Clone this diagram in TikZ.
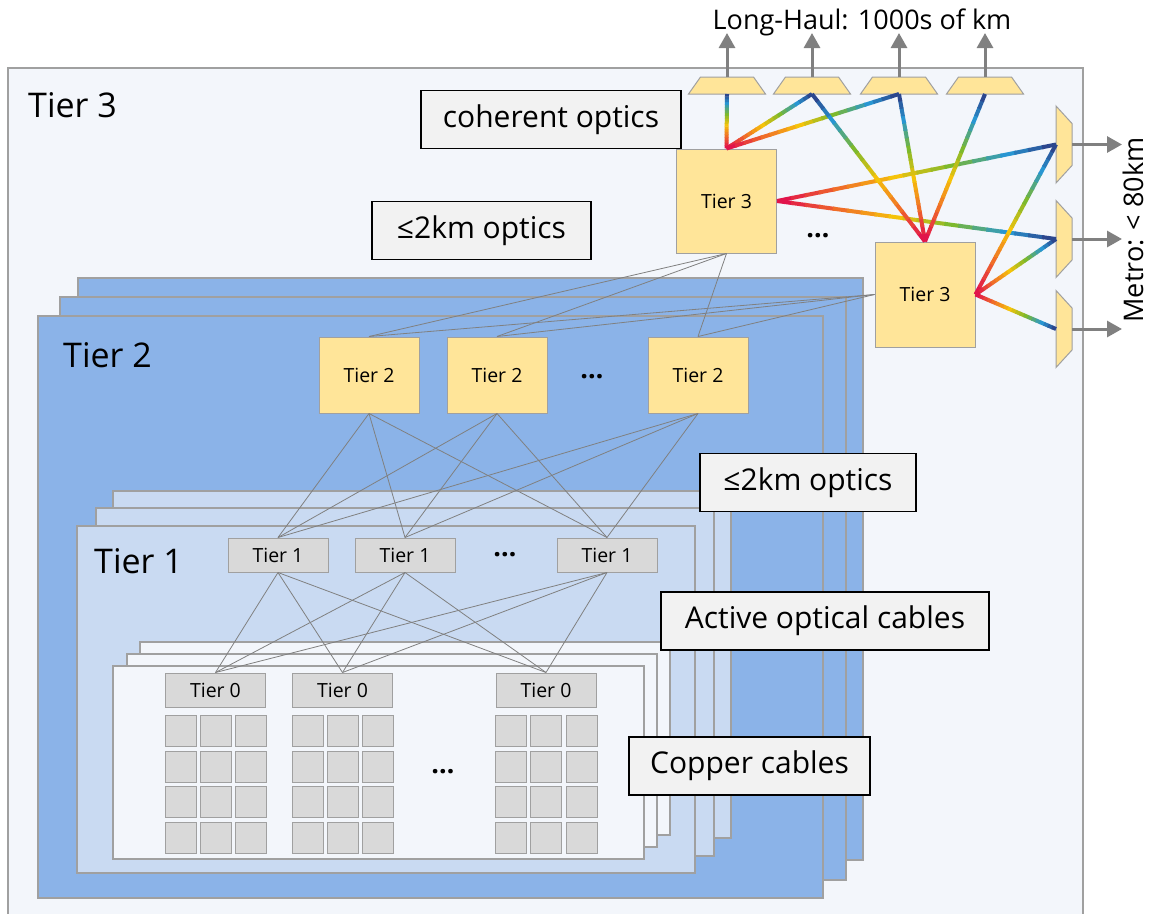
\documentclass[tikz,border=0pt]{standalone}
\usepackage{fontspec}
\setmainfont{Open Sans}
\usepackage{tikz}
\usetikzlibrary{positioning, calc, arrows.meta}
\definecolor{bgfill}{HTML}{F3F6FB}
\definecolor{edgegray}{HTML}{A0A0A0}
\definecolor{tiertwofill}{HTML}{8BB3E8}
\definecolor{tieronefill}{HTML}{C9DAF2}
\definecolor{boxyellow}{HTML}{FFE599}
\definecolor{boxgray}{HTML}{D9D9D9}
\definecolor{notefill}{HTML}{F2F2F2}
\definecolor{linkgray}{HTML}{808080}
\definecolor{rb0}{RGB}{225,20,75}
\definecolor{rb1}{RGB}{240,110,40}
\definecolor{rb2}{RGB}{245,195,10}
\definecolor{rb3}{RGB}{125,185,45}
\definecolor{rb4}{RGB}{40,150,210}
\definecolor{rb5}{RGB}{45,45,120}
\tikzset{%
	panel/.style={draw=edgegray, line width=1.2pt},
	bigtier/.style={anchor=base west, inner sep=0pt, font=\fontsize{34}{40}\selectfont},
	tbig/.style={draw=edgegray, fill=boxyellow, minimum width=100pt, inner sep=0pt,%
		line width=1pt, font=\fontsize{19.5}{23}\selectfont},
	tthree/.style={tbig, minimum height=104pt},
	ttwo/.style={tbig, minimum height=76pt},
	tsmall/.style={draw=edgegray, fill=boxgray, minimum width=100pt, minimum height=34pt,%
		inner sep=0pt, line width=1pt, font=\fontsize{19.5}{23}\selectfont},
	cell/.style={draw=edgegray, fill=boxgray, minimum size=31pt, inner sep=0pt, line width=1pt},
	note/.style={draw=black, fill=notefill, line width=1.5pt, minimum height=58pt,%
		inner sep=0pt, font=\fontsize{30}{36}\selectfont},
	ellip/.style={inner sep=0pt, font=\fontsize{27}{30}\selectfont\bfseries},
	reach/.style={anchor=base, inner sep=0pt, font=\fontsize{27}{32}\selectfont},
	link/.style={draw=linkgray, line width=0.8pt},
	rainbow/.style={line width=4pt},
	outarrow/.style={draw=linkgray, line width=3pt, -{Triangle[width=16pt,length=15pt]}},
	xcvr/.style={draw=edgegray, fill=boxyellow, line width=1pt, line join=miter}
}
\newcommand{\rainbowlink}[2]{%
	\foreach \i in {0,...,19}{%
		\pgfmathtruncatemacro{\rbk}{\i/4}%
		\pgfmathtruncatemacro{\rbn}{\rbk+1}%
		\pgfmathtruncatemacro{\rbw}{100-25*mod(\i,4)}%
		\pgfmathsetmacro{\rbs}{\i/20}%
		\pgfmathsetmacro{\rbe}{min(1,(\i+1.15)/20)}%
		\draw[rainbow, draw=rb\rbk!\rbw!rb\rbn] ($(#1)!\rbs!(#2)$) -- ($(#1)!\rbe!(#2)$);
	}}

\begin{document}
\begin{tikzpicture}[x=1pt, y=-1pt]
	\useasboundingbox (0,0) rectangle (1150,913);
	% tier 3 site
	\filldraw[panel, fill=bgfill] (8,920) -- (8,68) -- (1083,68) -- (1083,920);
	\node[bigtier] (lbl3) at (28,117) {Tier 3};

	% stacked panels
	\foreach \xa/\ya/\xb/\yb in {78/278/863/860, 60/297/846/880, 38/316/823/898}
		\filldraw[panel, fill=tiertwofill] (\xa,\ya) rectangle (\xb,\yb);
	\node[bigtier] (lbl2) at (63,367) {Tier 2};
	\foreach \xa/\ya/\xb/\yb in {113/491/731/838, 96/508/714/856, 77/526/695/873}
		\filldraw[panel, fill=tieronefill] (\xa,\ya) rectangle (\xb,\yb);
	\node[bigtier] (lbl1) at (94,573) {Tier 1};
	\foreach \xa/\ya/\xb/\yb in {140/642/670/835, 127/654/657/847, 113/666/644/859}
		\filldraw[panel, fill=bgfill] (\xa,\ya) rectangle (\xb,\yb);

	% switches
	\node[tthree] (t3a) at (726.5,201) {Tier 3};
	\node[tthree, minimum height=105pt] (t3b) at (925,294.5) {Tier 3};
	\node[ellip] (dots3) at (818,236) {…};

	\node[ttwo] (t2a) at (369,375) {Tier 2};
	\node[ttwo, right=27pt of t2a] (t2b) {Tier 2};
	\node[ttwo] (t2c) at (698,375) {Tier 2};
	\node[ellip] (dots2) at (592,377) {…};

	\node[tsmall] (t1a) at (278,555) {Tier 1};
	\node[tsmall, right=26pt of t1a] (t1b) {Tier 1};
	\node[tsmall] (t1c) at (607,555) {Tier 1};
	\node[ellip] (dots1) at (505,555) {…};

	\node[tsmall] (t0a) at (215.5,690) {Tier 0};
	\node[tsmall, right=26pt of t0a] (t0b) {Tier 0};
	\node[tsmall] (t0c) at (546,690) {Tier 0};
	\node[ellip] (dots0) at (443,772) {…};

	% accelerators under each tier 0
	\foreach \s in {t0a,t0b,t0c}
		\foreach \r in {0,...,3}
			\foreach \c in {0,...,2}
				\node[cell] (\s-\r-\c) at ($(\s.south west)+(15.5+35.3*\c,23.5+35.7*\r)$) {};

	% fabric links
	\foreach \a in {t2a,t2b,t2c} {
		\draw[link] (t3a.south) -- (\a.north);
		\draw[link] (t3b.west) -- (\a.north);
	}
	\foreach \a in {t2a,t2b,t2c}
		\foreach \b in {t1a,t1b,t1c}
			\draw[link] (\a.south) -- (\b.north);
	\foreach \a in {t1a,t1b,t1c}
		\foreach \b in {t0a,t0b,t0c}
			\draw[link] (\a.south) -- (\b.north);

	% transceivers
	\foreach \n/\x in {1/727, 2/812, 3/899, 4/985} {
		\coordinate (lh\n) at (\x,85.5);
		\coordinate (lh\n-in) at (\x,94);
		\coordinate (lh\n-top) at (\x,77);
		\coordinate (lh\n-out) at (\x,33);
		\filldraw[xcvr] ($(lh\n)+(-38.5,8.5)$) -- ++(77,0) -- ++(-12,-17) -- ++(-53,0) -- cycle;
		\draw[outarrow] (lh\n-top) -- (lh\n-out);
	}
	\foreach \n/\y in {1/144.5, 2/239, 3/329} {
		\coordinate (mt\n) at (1064,\y);
		\coordinate (mt\n-in) at (1056,\y);
		\coordinate (mt\n-top) at (1072,\y);
		\coordinate (mt\n-out) at (1122,\y);
		\filldraw[xcvr] ($(mt\n)+(-8,-38.5)$) -- ++(0,77) -- ++(16,-17.5) -- ++(0,-42) -- cycle;
		\draw[outarrow] (mt\n-top) -- (mt\n-out);
	}
	\node[reach] (lhlabel) at (862,29) {Long-Haul: 1000s of km};
	\node[reach, rotate=90] (metrolabel) at (1143,230) {Metro: < 80km};

	% coloured WDM links
	\rainbowlink{t3a.north}{lh1-in}
	\rainbowlink{t3a.north}{lh2-in}
	\rainbowlink{t3a.north}{lh3-in}
	\rainbowlink{t3a.east}{mt1-in}
	\rainbowlink{t3a.east}{mt2-in}
	\rainbowlink{t3b.north}{lh2-in}
	\rainbowlink{t3b.north}{lh3-in}
	\rainbowlink{t3b.north}{lh4-in}
	\rainbowlink{t3b.east}{mt1-in}
	\rainbowlink{t3b.east}{mt2-in}
	\rainbowlink{t3b.east}{mt3-in}

	% reach labels
	\node[note, minimum width=260pt] (coh) at (551,119.5) {coherent optics};
	\node[note, minimum width=219pt] (km1) at (481.5,230.5) {≤2km optics};
	\node[note, minimum width=216pt] (km2) at (808,482.5) {≤2km optics};
	\node[note, minimum width=328pt] (aoc) at (825,621) {Active optical cables};
	\node[note, minimum width=241pt] (cu) at (749.5,766) {Copper cables};
\end{tikzpicture}
\end{document}
